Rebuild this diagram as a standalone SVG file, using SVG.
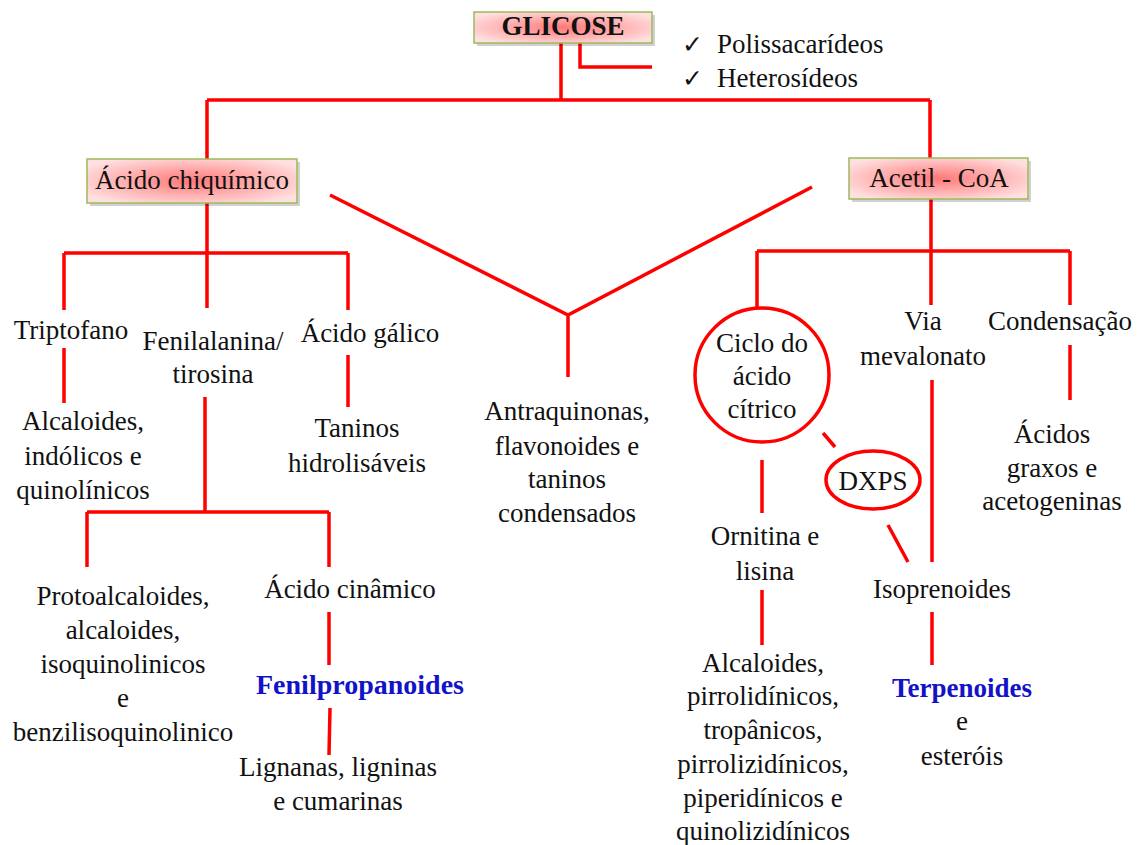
<svg xmlns="http://www.w3.org/2000/svg" width="1138" height="845" viewBox="0 0 1138 845">
<defs>
<radialGradient id="boxgrad" cx="50%" cy="50%" r="60%">
<stop offset="0%" stop-color="#ff7878"/>
<stop offset="100%" stop-color="#ffe0e0"/>
</radialGradient>
<style>
.t{font-family:"Liberation Serif","Times New Roman",serif;font-size:27px;fill:#111;text-anchor:middle}
.b{font-weight:bold}
.blue{fill:#1212c8;font-weight:bold}
.box{fill:url(#boxgrad);stroke:#9bbb59;stroke-width:1.5}
.sh{fill:#000;opacity:0.18}
.ln{fill:none;stroke:#ff0000;stroke-width:3.5}
.chk{font-family:"DejaVu Sans",sans-serif;font-size:25px;fill:#111}
.lt{font-family:"Liberation Serif","Times New Roman",serif;font-size:27px;fill:#111}
</style>
</defs>
<rect width="1138" height="845" fill="#fff"/>

<g id="connectors">
<path class="ln" d="M561,43 V100"/>
<path class="ln" d="M580,43 V67 H652"/>
<path class="ln" d="M207,100 H930 M207,100 V159 M930,100 V158"/>
<path class="ln" d="M207,203 V308"/>
<path class="ln" d="M64,253 H348 M64,253 V310 M348,253 V310"/>
<path class="ln" d="M64,348 V403"/>
<path class="ln" d="M348,355 V407"/>
<path class="ln" d="M205,397 V512 M87,512 H329 M87,512 V567 M329,512 V567"/>
<path class="ln" d="M329,612 V665"/>
<path class="ln" d="M330,708 L329,755"/>
<path class="ln" d="M330,195 L568,315 L812,187 M568,315 V377"/>
<path class="ln" d="M931,199 V305"/>
<path class="ln" d="M757,251 H1070 M757,251 V307 M1070,251 V305"/>
<path class="ln" d="M762,460 V513"/>
<path class="ln" d="M823,433 L835,447"/>
<path class="ln" d="M888,525 L908,562"/>
<path class="ln" d="M932,380 V562"/>
<path class="ln" d="M1070,345 V400"/>
<path class="ln" d="M762,590 V645"/>
<path class="ln" d="M932,612 V665"/>
</g>

<g id="glicose">
<rect class="sh" x="477" y="15" width="178" height="31"/>
<rect class="box" x="474" y="12" width="178" height="31"/>
<text class="t b" x="563" y="35">GLICOSE</text>
</g>

<g id="glicose-list">
<text class="chk" x="682" y="53">✓</text>
<text class="lt" x="717" y="53">Polissacarídeos</text>
<text class="chk" x="682" y="87">✓</text>
<text class="lt" x="717" y="87">Heterosídeos</text>
</g>

<g id="acido-chiquimico">
<rect class="sh" x="90" y="162" width="210" height="44"/>
<rect class="box" x="87" y="159" width="210" height="44"/>
<text class="t" x="192" y="189">Ácido chiquímico</text>
</g>

<g id="acetil-coa">
<rect class="sh" x="852" y="161" width="179" height="41"/>
<rect class="box" x="849" y="158" width="179" height="41"/>
<text class="t" x="939" y="187">Acetil - CoA</text>
</g>

<g id="triptofano"><text class="t" x="71" y="339">Triptofano</text></g>
<g id="fenilalanina"><text class="t" x="213" y="350">Fenilalanina/</text><text class="t" x="213" y="383">tirosina</text></g>
<g id="acido-galico"><text class="t" x="370" y="342">Ácido gálico</text></g>
<g id="alcaloides-indolicos"><text class="t" x="83" y="430">Alcaloides,</text><text class="t" x="83" y="465">indólicos e</text><text class="t" x="83" y="499">quinolínicos</text></g>
<g id="taninos-hidrolisaveis"><text class="t" x="357" y="437">Taninos</text><text class="t" x="357" y="472">hidrolisáveis</text></g>
<g id="protoalcaloides">
<text class="t" x="123" y="605">Protoalcaloides,</text>
<text class="t" x="123" y="639">alcaloides,</text>
<text class="t" x="123" y="673">isoquinolinicos</text>
<text class="t" x="123" y="707">e</text>
<text class="t" x="123" y="741">benzilisoquinolinico</text>
</g>
<g id="acido-cinamico"><text class="t" x="350" y="598">Ácido cinâmico</text></g>
<g id="fenilpropanoides"><text class="t blue" x="360" y="694" style="font-size:28px">Fenilpropanoides</text></g>
<g id="lignanas"><text class="t" x="338" y="776">Lignanas, ligninas</text><text class="t" x="338" y="810">e cumarinas</text></g>

<g id="antraquinonas">
<text class="t" x="567" y="420">Antraquinonas,</text>
<text class="t" x="567" y="455">flavonoides e</text>
<text class="t" x="567" y="488">taninos</text>
<text class="t" x="567" y="522">condensados</text>
</g>

<g id="ciclo-acido-citrico">
<circle cx="762" cy="375" r="67" fill="none" stroke="#ff0000" stroke-width="3.5"/>
<text class="t" x="762" y="352">Ciclo do</text>
<text class="t" x="762" y="385">ácido</text>
<text class="t" x="762" y="418">cítrico</text>
</g>
<g id="dxps">
<ellipse cx="873" cy="480" rx="47" ry="29" fill="none" stroke="#ff0000" stroke-width="3.5"/>
<text class="t" x="873" y="490">DXPS</text>
</g>
<g id="via-mevalonato"><text class="t" x="923" y="330">Via</text><text class="t" x="923" y="365">mevalonato</text></g>
<g id="condensacao"><text class="t" x="1060" y="330">Condensação</text></g>
<g id="acidos-graxos"><text class="t" x="1052" y="443">Ácidos</text><text class="t" x="1052" y="477">graxos e</text><text class="t" x="1052" y="510">acetogeninas</text></g>
<g id="ornitina"><text class="t" x="765" y="545">Ornitina e</text><text class="t" x="765" y="580">lisina</text></g>
<g id="alcaloides-pirrolidinicos">
<text class="t" x="763" y="672">Alcaloides,</text>
<text class="t" x="763" y="705">pirrolidínicos,</text>
<text class="t" x="763" y="739">tropânicos,</text>
<text class="t" x="763" y="773">pirrolizidínicos,</text>
<text class="t" x="763" y="807">piperidínicos e</text>
<text class="t" x="763" y="840">quinolizidínicos</text>
</g>
<g id="isoprenoides"><text class="t" x="942" y="598">Isoprenoides</text></g>
<g id="terpenoides">
<text class="t blue" x="962" y="697">Terpenoides</text>
<text class="t" x="962" y="730">e</text>
<text class="t" x="962" y="765">esteróis</text>
</g>
</svg>
